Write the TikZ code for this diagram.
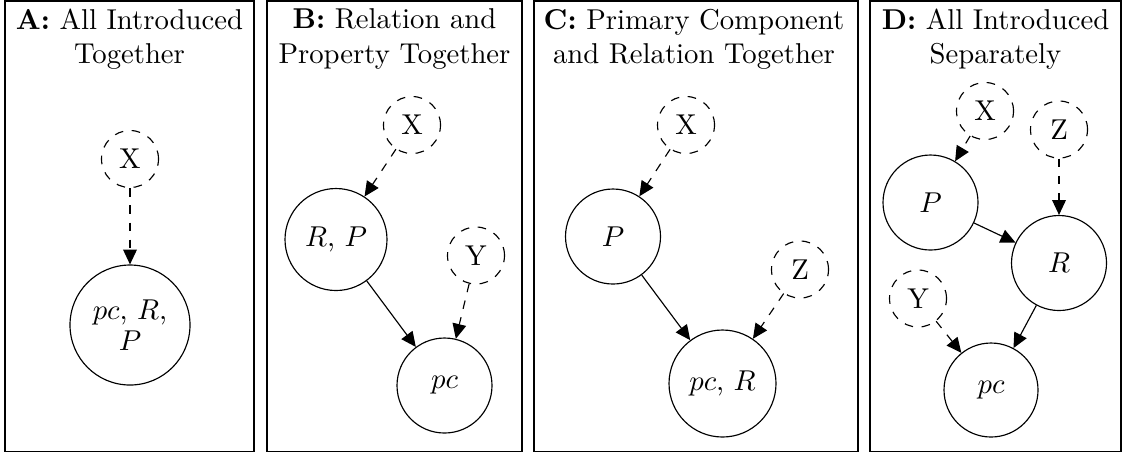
\documentclass[tikz,border=0pt]{standalone}
\usetikzlibrary{arrows.meta}
\begin{document}
\begin{tikzpicture}[x=0.3485pt,y=-0.3485pt,
  panel/.style={draw,line width=0.4pt},
  title/.style={align=center,anchor=north,inner sep=0pt,font=\fontsize{10pt}{12pt}\selectfont},
  var/.style={circle,draw,inner sep=0pt,minimum size=#1*0.697pt,align=center,font=\fontsize{10pt}{11pt}\selectfont},
  lat/.style={circle,draw,dashed,inner sep=0pt,minimum size=57*0.3485pt},
  edg/.style={-{Triangle[length=5.2pt,width=4.8pt]}},
  dedg/.style={edg,dashed}]
\useasboundingbox (0,0) rectangle (1128,454);
% panels
\draw[panel] (5,1) rectangle (254,451.5);
\draw[panel] (267,1) rectangle (522,451.5);
\draw[panel] (534,1) rectangle (858,451.5);
\draw[panel] (870,1) rectangle (1121,451.5);
% titles
\node[title] (tA) at (129.5,8.4) {\textbf{A:} All Introduced\\Together};
\node[title] (tB) at (394.5,8.4) {\textbf{B:} Relation and\\Property Together};
\node[title] (tC) at (694,8.4) {\textbf{C:} Primary Component\\and Relation Together};
\node[title] (tD) at (995.5,8.4) {\textbf{D:} All Introduced\\Separately};
% panel A
\node[lat] (aX) at (130,159) {X};
\node[var=60] (aN) at (130,325) {$pc$, $R$,\\$P$};
\draw[dedg] (aX) -- (aN);
% panel B
\node[lat] (bX) at (412,125) {X};
\node[var=51] (bRP) at (336,239.5) {$R$, $P$};
\node[lat] (bY) at (476,255.5) {Y};
\node[var=47.5] (bpc) at (444.5,385.5) {$pc$};
\draw[dedg] (bX) -- (bRP);
\draw[edg] (bRP) -- (bpc);
\draw[dedg] (bY) -- (bpc);
% panel C
\node[lat] (cX) at (686,125) {X};
\node[var=47.5] (cP) at (613,236.5) {$P$};
\node[lat] (cZ) at (800,269.5) {Z};
\node[var=53.5] (cpcR) at (722.5,383.5) {$pc$, $R$};
\draw[dedg] (cX) -- (cP);
\draw[edg] (cP) -- (cpcR);
\draw[dedg] (cZ) -- (cpcR);
% panel D
\node[lat] (dX) at (985,111) {X};
\node[lat] (dZ) at (1059,129.5) {Z};
\node[var=47.5] (dP) at (930.5,202.5) {$P$};
\node[var=47.5] (dR) at (1059,263) {$R$};
\node[lat] (dY) at (918,298.5) {Y};
\node[var=47] (dpc) at (991,390) {$pc$};
\draw[dedg] (dX) -- (dP);
\draw[dedg] (dZ) -- (dR);
\draw[edg] (dP) -- (dR);
\draw[edg] (dR) -- (dpc);
\draw[dedg] (dY) -- (dpc);
\end{tikzpicture}
\end{document}
